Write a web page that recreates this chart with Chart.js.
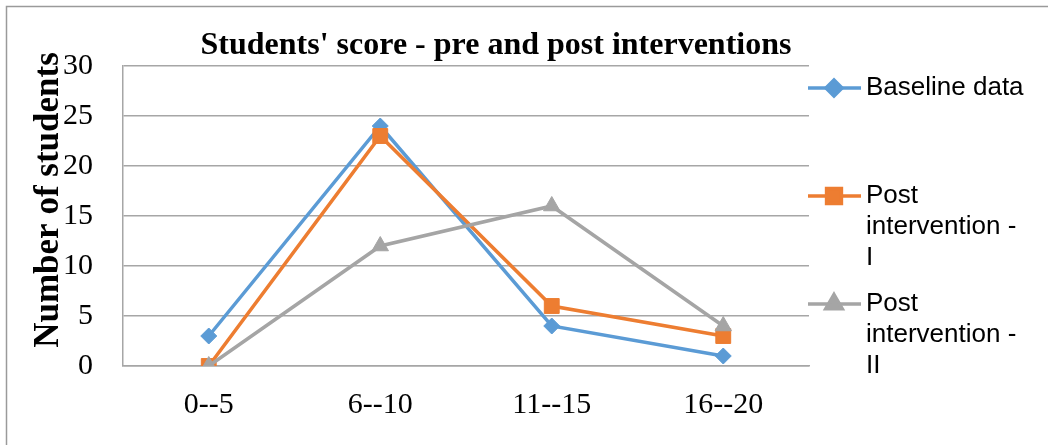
<!DOCTYPE html>
<html>
<head>
<meta charset="utf-8">
<title>Students' score - pre and post interventions</title>
<script src="https://cdn.jsdelivr.net/npm/chart.js@4/dist/chart.umd.min.js"></script>
<style>
  html, body { margin: 0; padding: 0; background: #fff; }
  #wrap { width: 1048px; height: 445px; }
</style>
</head>
<body>
<div id="wrap"><canvas id="score-chart" width="1048" height="445"></canvas></div>
<script>
"use strict";

// Chart data.
const categories = ["0--5", "6--10", "11--15", "16--20"];
const baselineData = [3, 24, 4, 1];
const postOneData = [0, 23, 6, 3];
const postTwoData = [0, 12, 16, 4];
const yTicks = [0, 5, 10, 15, 20, 25, 30];
const seriesNames = [
  ["Baseline data"],
  ["Post", "intervention -", "I"],
  ["Post", "intervention -", "II"],
];
const yTitle = "Number of students";

const SERIF = "'Liberation Serif', 'Times New Roman', serif";
const SANS = "'Liberation Sans', Arial, sans-serif";
const GRID = "#a6a6a6";

// Frame, titles and the legend on the right.
const framePlugin = {
  id: "frame",
  beforeDraw(chart) {
    const c = chart.ctx;
    c.save();
    c.strokeStyle = "#9a9a9a";
    c.lineWidth = 1.5;
    c.beginPath();
    c.moveTo(6.5, 445);
    c.lineTo(6.5, 6.5);
    c.lineTo(1048, 6.5);
    c.stroke();

    c.fillStyle = "#000";
    c.font = "bold 32px " + SERIF;
    c.textAlign = "center";
    c.textBaseline = "middle";
    c.fillText("Students' score - pre and post interventions", 496, 46);

    // y axis title, a bit above the middle of the plot like the original
    c.translate(49, 200);
    c.rotate(-Math.PI / 2);
    c.font = "bold 35px " + SERIF;
    c.fillText(yTitle, 0, 0);
    c.restore();
  },
  afterDraw(chart) {
    const c = chart.ctx;
    const rowTops = [88, 196, 304];
    c.save();
    chart.data.datasets.forEach((ds, i) => {
      const y = rowTops[i];
      c.strokeStyle = ds.borderColor;
      c.fillStyle = ds.backgroundColor;
      c.lineWidth = 3.5;
      c.beginPath();
      c.moveTo(808, y);
      c.lineTo(861, y);
      c.stroke();
      Chart.helpers.drawPoint(c, {
        pointStyle: ds.pointStyle,
        radius: ds.pointRadius,
        rotation: 0,
        borderWidth: 1,
      }, 834, y);

      c.fillStyle = "#000";
      c.font = "26px " + SANS;
      c.textAlign = "left";
      c.textBaseline = "middle";
      seriesNames[i].forEach((line, k) => {
        c.fillText(line, 866, y + k * 31);
      });
    });
    c.restore();
  },
};

const ctx = document.getElementById("score-chart");

const scoreChart = new Chart(ctx, {
  type: "line",
  data: {
    labels: categories,
    datasets: [
      {
        label: seriesNames[0].join(" "),
        data: baselineData,
        borderColor: "#5b9bd5",
        backgroundColor: "#5b9bd5",
        pointStyle: "rectRot",
        pointRadius: 8,
        order: 2,
      },
      {
        label: seriesNames[1].join(" "),
        data: postOneData,
        borderColor: "#ed7d31",
        backgroundColor: "#ed7d31",
        pointStyle: "rect",
        pointRadius: 10.5,
        order: 1,
      },
      {
        label: seriesNames[2].join(" "),
        data: postTwoData,
        borderColor: "#a5a5a5",
        backgroundColor: "#a5a5a5",
        pointStyle: "triangle",
        pointRadius: 9.5,
        order: 0,
      },
    ],
  },
  options: {
    responsive: false,
    animation: false,
    layout: { padding: { left: 6, top: 66, right: 239, bottom: 0 } },
    elements: {
      line: { borderWidth: 3.5, tension: 0, fill: false },
      point: { borderWidth: 1, hoverRadius: 9 },
    },
    plugins: {
      legend: { display: false },
      title: { display: false },
      tooltip: { enabled: false },
    },
    scales: {
      x: {
        offset: true,
        grid: { display: false, drawTicks: false },
        border: { display: true, color: GRID, width: 1.5 },
        ticks: {
          color: "#000",
          font: { family: SERIF, size: 30 },
          padding: 21,
          maxRotation: 0,
        },
        afterFit(scale) {
          scale.height = 79;
        },
      },
      y: {
        min: 0,
        max: 30,
        afterBuildTicks(scale) {
          scale.ticks = yTicks.map((v) => ({ value: v }));
        },
        grid: { color: GRID, lineWidth: 1.5, drawTicks: false },
        border: { display: true, color: GRID, width: 1.5 },
        ticks: {
          color: "#000",
          font: { family: SERIF, size: 30 },
          padding: 30,
        },
        afterFit(scale) {
          scale.width = 117;
        },
      },
    },
  },
  plugins: [framePlugin],
});
</script>
</body>
</html>
